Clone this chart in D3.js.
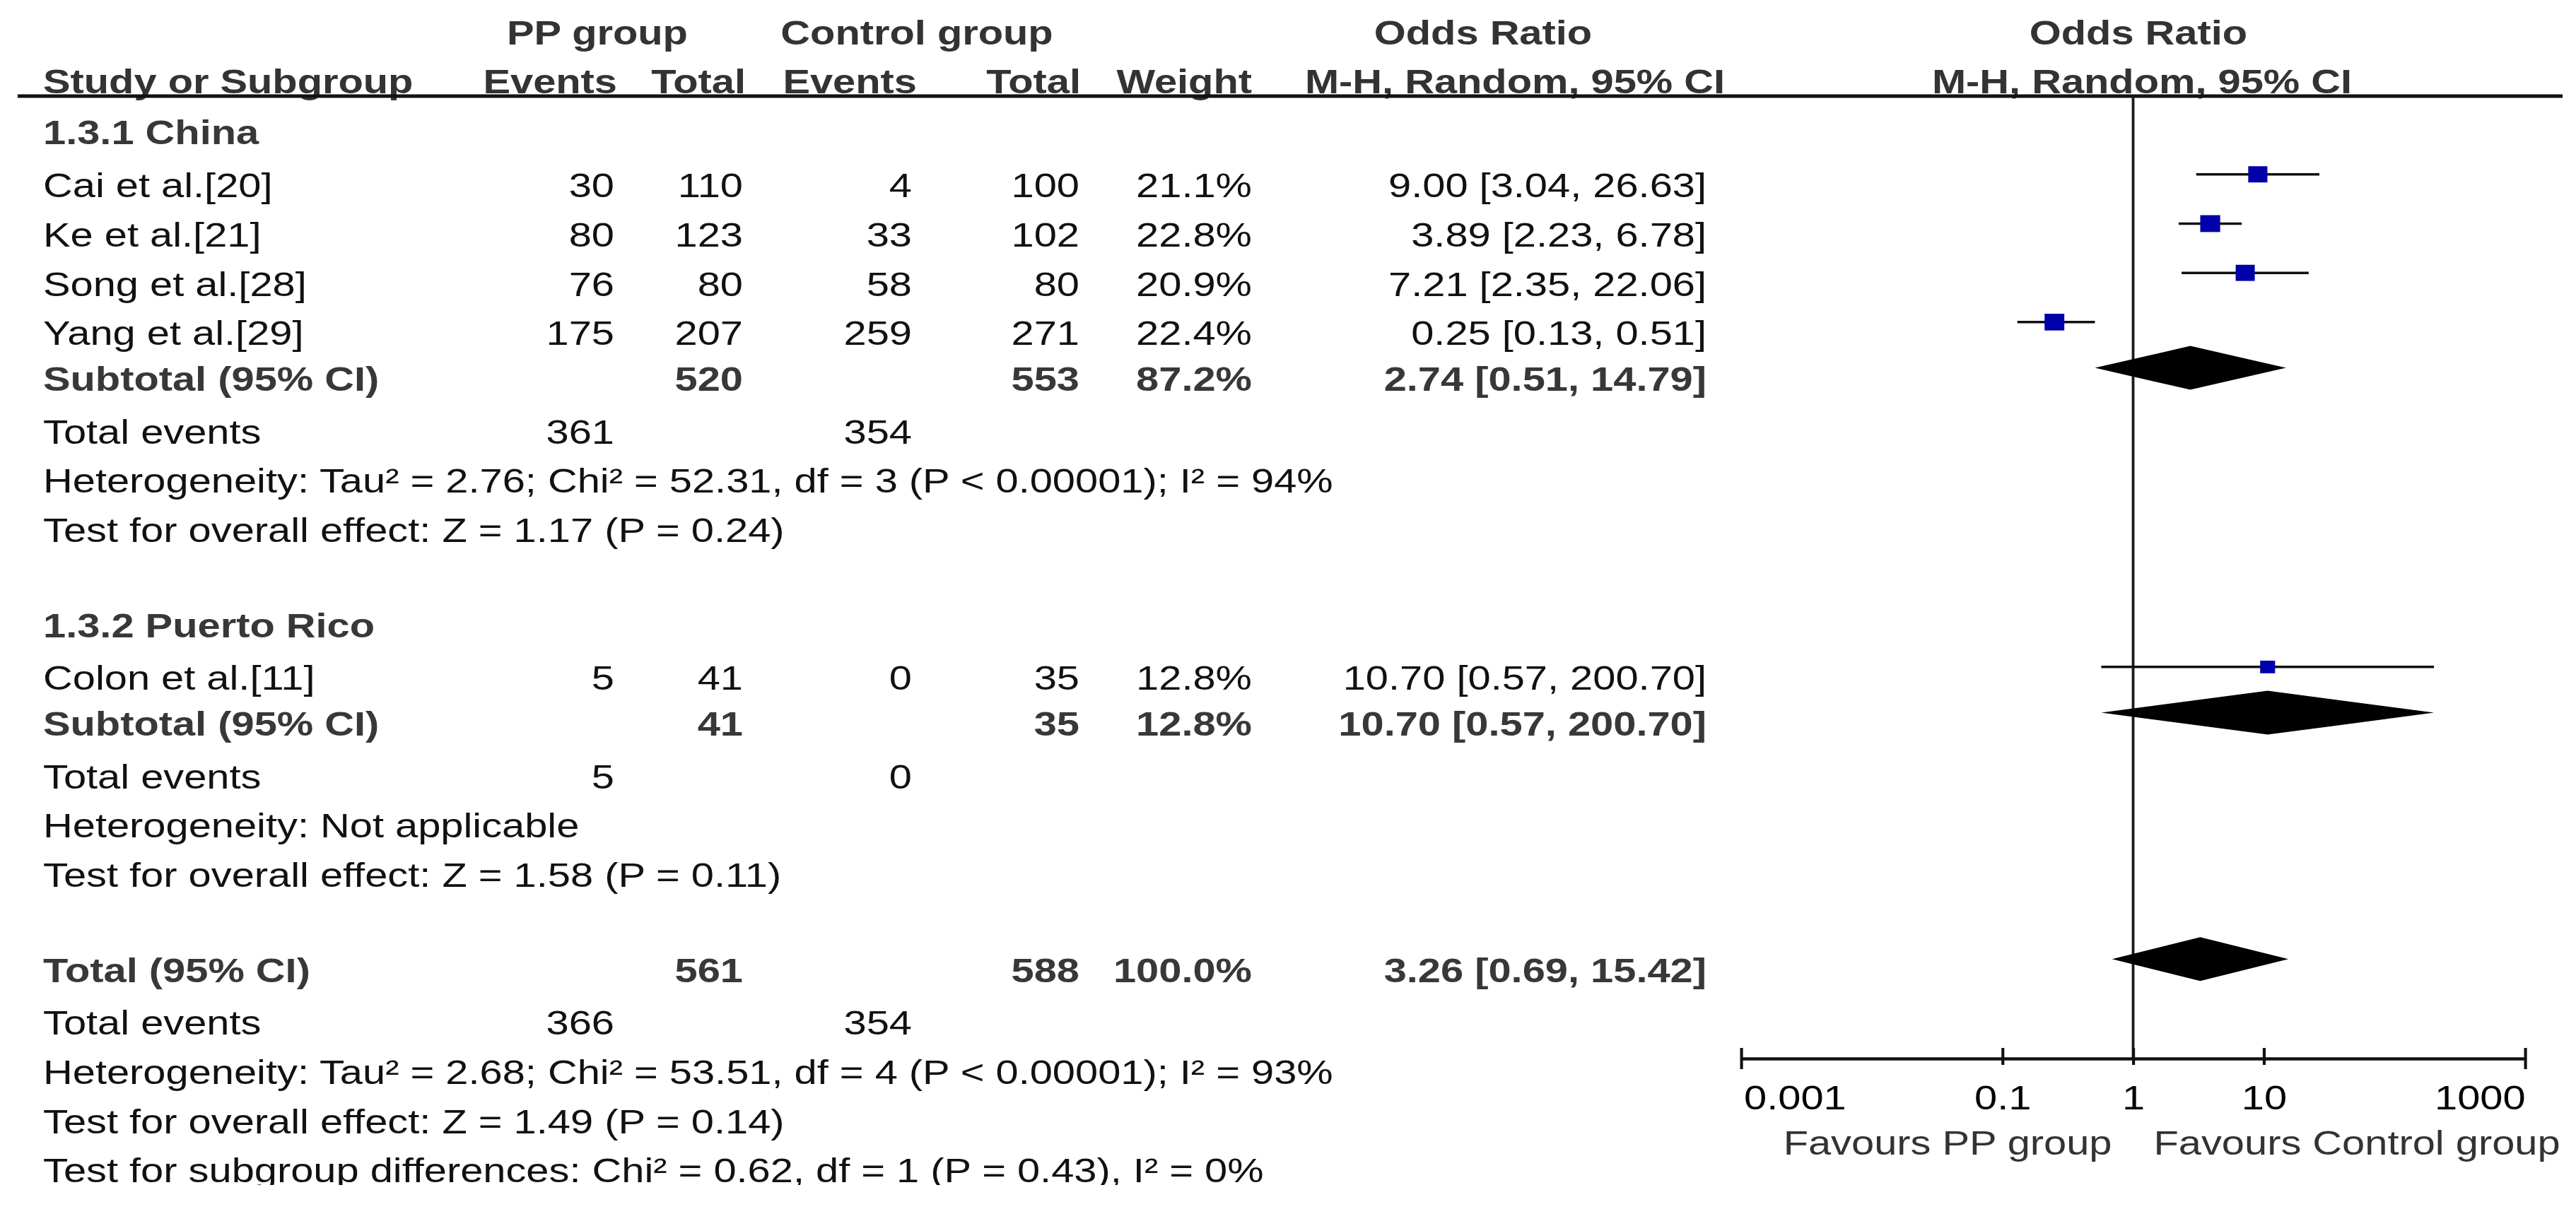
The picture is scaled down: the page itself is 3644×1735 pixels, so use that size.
<!DOCTYPE html>
<html>
<head>
<meta charset="utf-8">
<script src="https://cdn.jsdelivr.net/npm/d3@7"></script>
<style>
html, body { margin: 0; padding: 0; background: #fff; }
svg { display: block; font-family: Arial, "Liberation Sans", sans-serif; }
</style>
</head>
<body>
<div id="chart"></div>
<script>
//////////////////////////////////////////////
// data //////////////////////////////////////
//////////////////////////////////////////////
var studyNames   = ["Cai et al.[20]", "Ke et al.[21]", "Song et al.[28]", "Yang et al.[29]", "Colon et al.[11]"];
var studyGroup   = [0, 0, 0, 0, 1];
var ppEvents     = [30, 80, 76, 175, 5];
var ppTotal      = [110, 123, 80, 207, 41];
var ctrlEvents   = [4, 33, 58, 259, 0];
var ctrlTotal    = [100, 102, 80, 271, 35];
var studyWeight  = [21.1, 22.8, 20.9, 22.4, 12.8];
var studyOR      = [9.00, 3.89, 7.21, 0.25, 10.70];
var studyLo      = [3.04, 2.23, 2.35, 0.13, 0.57];
var studyHi      = [26.63, 6.78, 22.06, 0.51, 200.70];

var groupNames      = ["1.3.1 China", "1.3.2 Puerto Rico"];
var groupPPTotal    = [520, 41];
var groupCtrlTotal  = [553, 35];
var groupWeight     = [87.2, 12.8];
var groupOR         = [2.74, 10.70];
var groupLo         = [0.51, 0.57];
var groupHi         = [14.79, 200.70];
var groupPPEvents   = [361, 5];
var groupCtrlEvents = [354, 0];
var groupHet  = ["Heterogeneity: Tau\u00b2 = 2.76; Chi\u00b2 = 52.31, df = 3 (P < 0.00001); I\u00b2 = 94%",
                 "Heterogeneity: Not applicable"];
var groupTest = ["Test for overall effect: Z = 1.17 (P = 0.24)",
                 "Test for overall effect: Z = 1.58 (P = 0.11)"];

var totalPPTotal = [561], totalCtrlTotal = [588], totalWeight = [100.0];
var totalOR = [3.26], totalLo = [0.69], totalHi = [15.42];
var totalPPEvents = [366], totalCtrlEvents = [354];
var totalNotes = ["Heterogeneity: Tau\u00b2 = 2.68; Chi\u00b2 = 53.51, df = 4 (P < 0.00001); I\u00b2 = 93%",
                  "Test for overall effect: Z = 1.49 (P = 0.14)",
                  "Test for subgroup differences: Chi\u00b2 = 0.62, df = 1 (P = 0.43), I\u00b2 = 0%"];

var tickValues = [0.001, 0.1, 1, 10, 1000];
var tickLabels = ["0.001", "0.1", "1", "10", "1000"];
var favours    = ["Favours PP group", "Favours Control group"];

//////////////////////////////////////////////
// layout ////////////////////////////////////
//////////////////////////////////////////////
var W = 3644, H = 1735;
var SX = 1.18;               // the picture is stretched sideways
var VBW = W / SX;
var FS = 49;
var REG = "#111", BOLD = "#383838";

// column anchors, in picture pixels
var col = {name: 61, ppE: 869, ppT: 1051, cE: 1290, cT: 1527, w: 1771, or: 2414};

var rowY = d3.scaleLinear().domain([0, 21]).range([192, 1656]); // cap centre of a table line
var xOR = d3.scaleLog().domain([0.001, 1000]).range([2463 / SX, 3572 / SX]);
var axisY = 1498, topLine = 136;

var f2 = d3.format(".2f"), f1 = d3.format(".1f");
function ci(o, l, h) { return f2(o) + " [" + f2(l) + ", " + f2(h) + "]"; }

// build table lines
var lines = [], markers = [], diamonds = [];
var slot = 0;
groupNames.forEach(function(g, gi) {
  lines.push({slot: slot++, bold: true, head: true, cells: [["name", g]]});
  studyNames.forEach(function(s, i) {
    if (studyGroup[i] !== gi) return;
    lines.push({slot: slot, cells: [["name", s], ["ppE", ppEvents[i]], ["ppT", ppTotal[i]],
      ["cE", ctrlEvents[i]], ["cT", ctrlTotal[i]], ["w", f1(studyWeight[i]) + "%"],
      ["or", ci(studyOR[i], studyLo[i], studyHi[i])]]});
    markers.push({slot: slot++, w: studyWeight[i], or: studyOR[i], lo: studyLo[i], hi: studyHi[i]});
  });
  lines.push({slot: slot, bold: true, summary: true, cells: [["name", "Subtotal (95% CI)"],
    ["ppT", groupPPTotal[gi]], ["cT", groupCtrlTotal[gi]], ["w", f1(groupWeight[gi]) + "%"],
    ["or", ci(groupOR[gi], groupLo[gi], groupHi[gi])]]});
  diamonds.push({slot: slot++, or: groupOR[gi], lo: groupLo[gi], hi: groupHi[gi]});
  lines.push({slot: slot++, cells: [["name", "Total events"], ["ppE", groupPPEvents[gi]], ["cE", groupCtrlEvents[gi]]]});
  lines.push({slot: slot++, cells: [["name", groupHet[gi]]]});
  lines.push({slot: slot++, cells: [["name", groupTest[gi]]]});
  slot++;
});
lines.push({slot: slot, bold: true, summary: true, cells: [["name", "Total (95% CI)"],
  ["ppT", totalPPTotal[0]], ["cT", totalCtrlTotal[0]], ["w", f1(totalWeight[0]) + "%"],
  ["or", ci(totalOR[0], totalLo[0], totalHi[0])]]});
diamonds.push({slot: slot++, or: totalOR[0], lo: totalLo[0], hi: totalHi[0]});
lines.push({slot: slot++, cells: [["name", "Total events"], ["ppE", totalPPEvents[0]], ["cE", totalCtrlEvents[0]]]});
totalNotes.forEach(function(t) { lines.push({slot: slot++, cells: [["name", t]]}); });

function baseY(d) { return rowY(d.slot) + 17.5 + (d.summary || d.head ? -5 : 0); }
function markY(d, summary) { return rowY(d.slot) - 15 + (summary ? -5 : 0); }

//////////////////////////////////////////////
// drawing ///////////////////////////////////
//////////////////////////////////////////////
var svg = d3.select("#chart").append("svg")
  .attr("width", W).attr("height", H)
  .attr("viewBox", "0 0 " + VBW + " " + H)
  .attr("preserveAspectRatio", "none");

svg.append("defs").append("clipPath").attr("id", "cut")
  .append("rect").attr("x", 0).attr("y", 0).attr("width", VBW).attr("height", 1677);

// headers
var heads = [
  {t: "PP group", x: 845, y: 63.5, a: "middle"},
  {t: "Control group", x: 1297, y: 63.5, a: "middle"},
  {t: "Odds Ratio", x: 2098, y: 63.5, a: "middle"},
  {t: "Odds Ratio", x: 3025, y: 63.5, a: "middle"},
  {t: "Study or Subgroup", x: 61, y: 132.5, a: "start"},
  {t: "Events", x: 873, y: 132.5, a: "end"},
  {t: "Total", x: 1055, y: 132.5, a: "end"},
  {t: "Events", x: 1297, y: 132.5, a: "end"},
  {t: "Total", x: 1529, y: 132.5, a: "end"},
  {t: "Weight", x: 1771, y: 132.5, a: "end"},
  {t: "M-H, Random, 95% CI", x: 2143, y: 132.5, a: "middle"},
  {t: "M-H, Random, 95% CI", x: 3030, y: 132.5, a: "middle"}
];
svg.append("g").selectAll("text").data(heads).join("text")
  .attr("x", function(d) { return d.x / SX; })
  .attr("y", function(d) { return d.y; })
  .attr("text-anchor", function(d) { return d.a; })
  .attr("font-size", FS).attr("font-weight", "bold").attr("fill", "#333")
  .text(function(d) { return d.t; });

svg.append("line")
  .attr("x1", 25 / SX).attr("x2", 3625 / SX)
  .attr("y1", topLine).attr("y2", topLine)
  .attr("stroke", "#111").attr("stroke-width", 5);

// table body
var table = svg.append("g").attr("clip-path", "url(#cut)");
var rows = table.selectAll("g.row").data(lines).join("g").attr("class", "row");
rows.selectAll("text")
  .data(function(d) { return d.cells.map(function(c) { return {key: c[0], text: c[1], line: d}; }); })
  .join("text")
  .attr("x", function(d) { return col[d.key] / SX; })
  .attr("y", function(d) { return baseY(d.line); })
  .attr("text-anchor", function(d) { return d.key === "name" ? "start" : "end"; })
  .attr("font-size", FS)
  .attr("font-weight", function(d) { return d.line.bold ? "bold" : "normal"; })
  .attr("fill", function(d) { return d.line.bold ? BOLD : REG; })
  .text(function(d) { return d.text; });

// plot
var plot = svg.append("g");

plot.append("line")
  .attr("x1", xOR(1)).attr("x2", xOR(1))
  .attr("y1", topLine).attr("y2", axisY)
  .attr("stroke", "#1a1a1a").attr("stroke-width", 3.2);

plot.selectAll("line.ci").data(markers).join("line").attr("class", "ci")
  .attr("x1", function(d) { return xOR(d.lo); })
  .attr("x2", function(d) { return xOR(d.hi); })
  .attr("y1", function(d) { return markY(d); })
  .attr("y2", function(d) { return markY(d); })
  .attr("stroke", "#111").attr("stroke-width", 3.5);

plot.selectAll("rect.sq").data(markers).join("rect").attr("class", "sq")
  .attr("x", function(d) { return xOR(d.or) - 2.5 * Math.sqrt(d.w); })
  .attr("y", function(d) { return markY(d) - 2.5 * Math.sqrt(d.w); })
  .attr("width", function(d) { return 5 * Math.sqrt(d.w); })
  .attr("height", function(d) { return 5 * Math.sqrt(d.w); })
  .attr("fill", "#0000a8");

plot.selectAll("path.dia").data(diamonds).join("path").attr("class", "dia")
  .attr("d", function(d) {
    var y = markY(d, true);
    return "M" + xOR(d.lo) + "," + y + "L" + xOR(d.or) + "," + (y - 31) +
           "L" + xOR(d.hi) + "," + y + "L" + xOR(d.or) + "," + (y + 31) + "Z";
  })
  .attr("fill", "#000");

// axis
var axis = d3.axisBottom(xOR).tickValues(tickValues)
  .tickFormat(function(d, i) { return tickLabels[i]; })
  .tickSizeInner(0).tickSizeOuter(0);
var axisEl = plot.append("g").attr("transform", "translate(0," + axisY + ")").call(axis);
axisEl.select(".domain").attr("stroke", "#111").attr("stroke-width", 4.5);
axisEl.selectAll(".tick line")
  .attr("y1", -15)
  .attr("y2", function(d, i) { return (i === 0 || i === tickValues.length - 1) ? 15 : 9; })
  .attr("stroke", "#111").attr("stroke-width", 3.5);
axisEl.selectAll(".tick text")
  .attr("y", 72).attr("dy", 0)
  .attr("font-size", FS).attr("font-family", "Arial, 'Liberation Sans', sans-serif")
  .attr("fill", "#000")
  .attr("text-anchor", function(d, i) { return i === 0 ? "start" : (i === tickValues.length - 1 ? "end" : "middle"); })
  .attr("dx", function(d, i) { return i === 0 ? 3 : 0; });

plot.selectAll("text.fav").data(favours).join("text").attr("class", "fav")
  .attr("x", function(d, i) { return i === 0 ? xOR(1) - 30 / SX : xOR(1) + 29 / SX; })
  .attr("y", 1634)
  .attr("text-anchor", function(d, i) { return i === 0 ? "end" : "start"; })
  .attr("font-size", FS).attr("fill", "#333")
  .text(function(d) { return d; });
</script>
</body>
</html>
